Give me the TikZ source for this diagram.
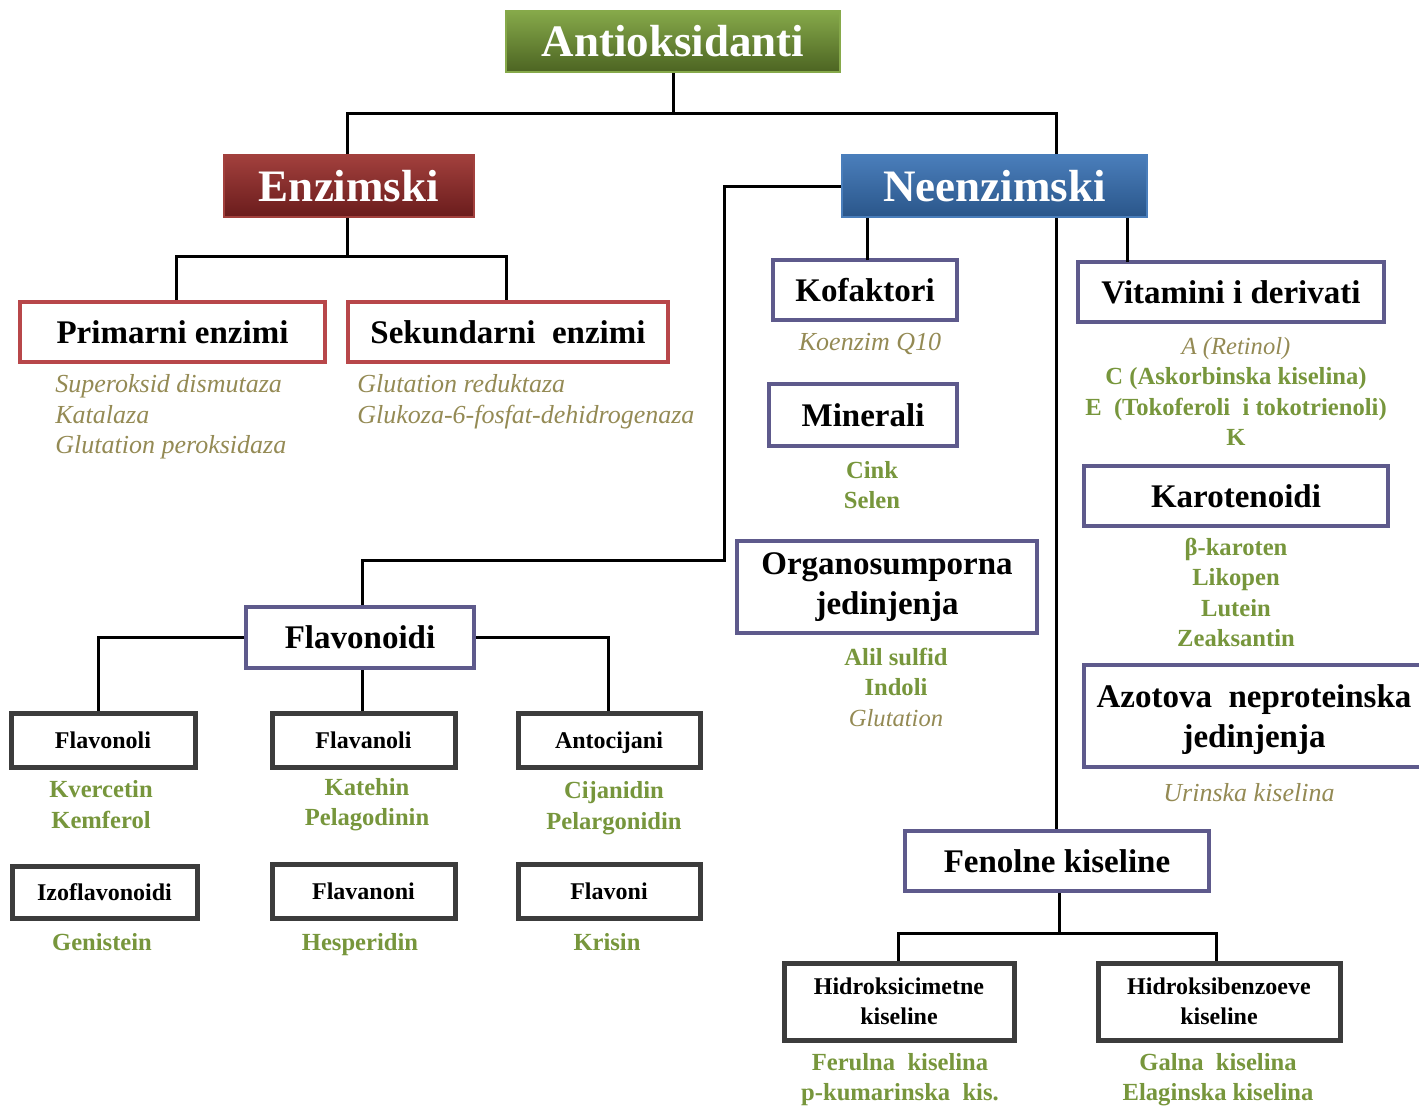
\documentclass[tikz,border=0pt]{standalone}
\usepackage{fontspec}
\setmainfont{Liberation Serif}
\definecolor{antigreen}{HTML}{86A94A}
\definecolor{antigreendk}{HTML}{4C6422}
\definecolor{enzred}{HTML}{A2403D}
\definecolor{enzreddk}{HTML}{6A1C1C}
\definecolor{neblue}{HTML}{4A7EBB}
\definecolor{nebluedk}{HTML}{2A568A}
\definecolor{redframe}{HTML}{B8474A}
\definecolor{neframe}{HTML}{5E5A8C}
\definecolor{flframe}{HTML}{3C3C3C}
\definecolor{listgreen}{HTML}{77963C}
\definecolor{listkhaki}{HTML}{948A54}

\tikzset{
  header/.style={draw=#1, line width=1pt, top color=#1, middle color=#1, bottom color=#1dk,
    text=white, font=\fontsize{22.5}{26}\selectfont\bfseries, inner sep=0pt},
  redbox/.style={draw=redframe, line width=2pt, fill=white, inner sep=0pt,
    font=\fontsize{16.5}{20}\selectfont\bfseries},
  nebox/.style={draw=neframe, line width=2pt, fill=white, inner sep=0pt, align=center,
    font=\fontsize{16.5}{20}\selectfont\bfseries},
  smallbox/.style={draw=flframe, line width=2.5pt, fill=white, inner sep=0pt, align=center,
    font=\fontsize{12}{15}\selectfont\bfseries},
  greenlist/.style={text=listgreen, align=center, inner sep=0pt,
    font=\fontsize{12.3}{15.25}\selectfont\bfseries},
  itlist/.style={text=listkhaki, inner sep=0pt,
    font=\fontsize{13}{15.25}\selectfont\itshape},
  link/.style={line width=1.5pt}
}
\newcommand{\kh}[1]{\textcolor{listkhaki}{\mdseries\itshape #1}}

\begin{document}
\begin{tikzpicture}[x=0.5pt,y=-0.5pt]
	\useasboundingbox (0,0) rectangle (1419,1108);

	%top
	\node[header=antigreen, minimum width=167pt, minimum height=30.5pt] (anti) at (673,41.5) {Antioksidanti};
	\coordinate (top) at (673,113);
	\draw[link] (anti.south) -- (top);
	\draw[link] (347,155) |- (top) -| (1056,155);

	%enzymes
	\node[header=enzred, minimum width=125pt, minimum height=31pt] (enz) at (349,186) {Enzimski};
	\node[redbox, minimum width=152.5pt, minimum height=30pt] (prim) at (172.5,332) {Primarni enzimi};
	\node[redbox, minimum width=160pt, minimum height=30pt] (sek) at (508,332) {Sekundarni~ enzimi};
	\coordinate (enzj) at (347,256);
	\draw[link] (enz.south -| enzj) -- (enzj);
	\draw[link] (prim.north -| 176,0) |- (enzj) -| (sek.north -| 506,0);
	\node[itlist, anchor=west, align=left] (primlist) at (55,417) {Superoksid dismutaza\\Katalaza\\Glutation peroksidaza};
	\node[itlist, anchor=west, align=left] (seklist) at (357,401.5) {Glutation reduktaza\\Glukoza-6-fosfat-dehidrogenaza};

	%non-enzymes
	\node[header=neblue, minimum width=152.5pt, minimum height=31pt] (neenz) at (994.5,186) {Neenzimski};
	\node[nebox, minimum width=92pt, minimum height=30pt] (kof) at (865,290) {Kofaktori};
	\node[nebox, minimum width=94pt, minimum height=31pt] (mine) at (863,415) {Minerali};
	\node[nebox, minimum width=150pt, minimum height=46pt] (org) at (887,587) {Organosumporna\\jedinjenja};
	\node[nebox, minimum width=153pt, minimum height=30pt] (vit) at (1231,292) {Vitamini i derivati};
	\node[nebox, minimum width=152pt, minimum height=30pt] (kar) at (1236,496) {Karotenoidi};
	\node[nebox, minimum width=170pt, minimum height=51pt, text depth=0pt] (azo) at (1254,716) {Azotova~ neproteinska\\jedinjenja};
	\node[nebox, minimum width=152pt, minimum height=30pt] (fen) at (1057,861) {Fenolne kiseline};
	\coordinate (kofj) at (867,260);
	\coordinate (vitj) at (1127,262);
	\draw[link] (kofj) -- (kofj |- neenz.south);
	\draw[link] (vitj) -- (vitj |- neenz.south);
	\draw[link] (neenz.south -| 1056,0) -- (fen.north -| 1056,0);
	\node[itlist] (koenz) at (870,344) {Koenzim Q10};
	\node[greenlist] (minlist) at (872,485) {Cink\\Selen};
	\node[greenlist] (orglist) at (896,687) {Alil sulfid\\Indoli\\\kh{Glutation}};
	\node[greenlist] (vitlist) at (1236,391.5) {\kh{A (Retinol)}\\C (Askorbinska kiselina)\\E~ (Tokoferoli~ i tokotrienoli)\\K};
	\node[greenlist] (karlist) at (1236,592.5) {β-karoten\\Likopen\\Lutein\\Zeaksantin};
	\node[itlist] (urin) at (1249,793) {Urinska kiselina};

	%phenolic acids
	\node[smallbox, minimum width=115pt, minimum height=38.5pt] (hcim) at (899,1001.5) {Hidroksicimetne\\kiseline};
	\node[smallbox, minimum width=121pt, minimum height=38.5pt] (hben) at (1219,1001.5) {Hidroksibenzoeve\\kiseline};
	\coordinate (fenj) at (1059,933);
	\draw[link] (fen.south -| fenj) -- (fenj);
	\draw[link] (hcim.north -| 898,0) |- (fenj) -| (hben.north -| 1216,0);
	\node[greenlist] (hcimlist) at (900,1079.5) {Ferulna~ kiselina\\p-kumarinska~ kis.};
	\node[greenlist] (hbenlist) at (1218,1079.5) {Galna~ kiselina\\Elaginska kiselina};

	%flavonoids
	\node[nebox, minimum width=114pt, minimum height=30.5pt] (flav) at (360,637.5) {Flavonoidi};
	\coordinate (flavj) at (724,560);
	\draw[link] (neenz.west) -| (flavj) -| (flav.north -| 362,0);
	\node[smallbox, minimum width=92pt, minimum height=27pt] (fnol) at (103,740) {Flavonoli};
	\node[smallbox, minimum width=91.5pt, minimum height=27pt] (fanol) at (363.5,740) {Flavanoli};
	\node[smallbox, minimum width=91pt, minimum height=27pt, text depth=0pt] (anto) at (609,740) {Antocijani};
	\node[smallbox, minimum width=92.5pt, minimum height=26pt] (izo) at (104.5,892) {Izoflavonoidi};
	\node[smallbox, minimum width=91.5pt, minimum height=27pt] (fnon) at (363.5,891) {Flavanoni};
	\node[smallbox, minimum width=91pt, minimum height=27pt] (fvon) at (609,891) {Flavoni};
	\draw[link] (flav.west) -| (fnol.north -| 98,0);
	\draw[link] (flav.east) -| (anto.north -| 608,0);
	\draw[link] (flav.south -| 362,0) -- (fanol.north -| 362,0);
	\node[greenlist] (fnollist) at (101,804.5) {Kvercetin\\Kemferol};
	\node[greenlist] (fanollist) at (367,804.5) {Katehin\\Pelagodinin};
	\node[greenlist] (antolist) at (614,808) {Cijanidin\\Pelargonidin};
	\node[greenlist] (izolist) at (102,942) {Genistein};
	\node[greenlist, text depth=0pt] (fnonlist) at (360,942) {Hesperidin};
	\node[greenlist] (fvonlist) at (607,942) {Krisin};
\end{tikzpicture}
\end{document}
